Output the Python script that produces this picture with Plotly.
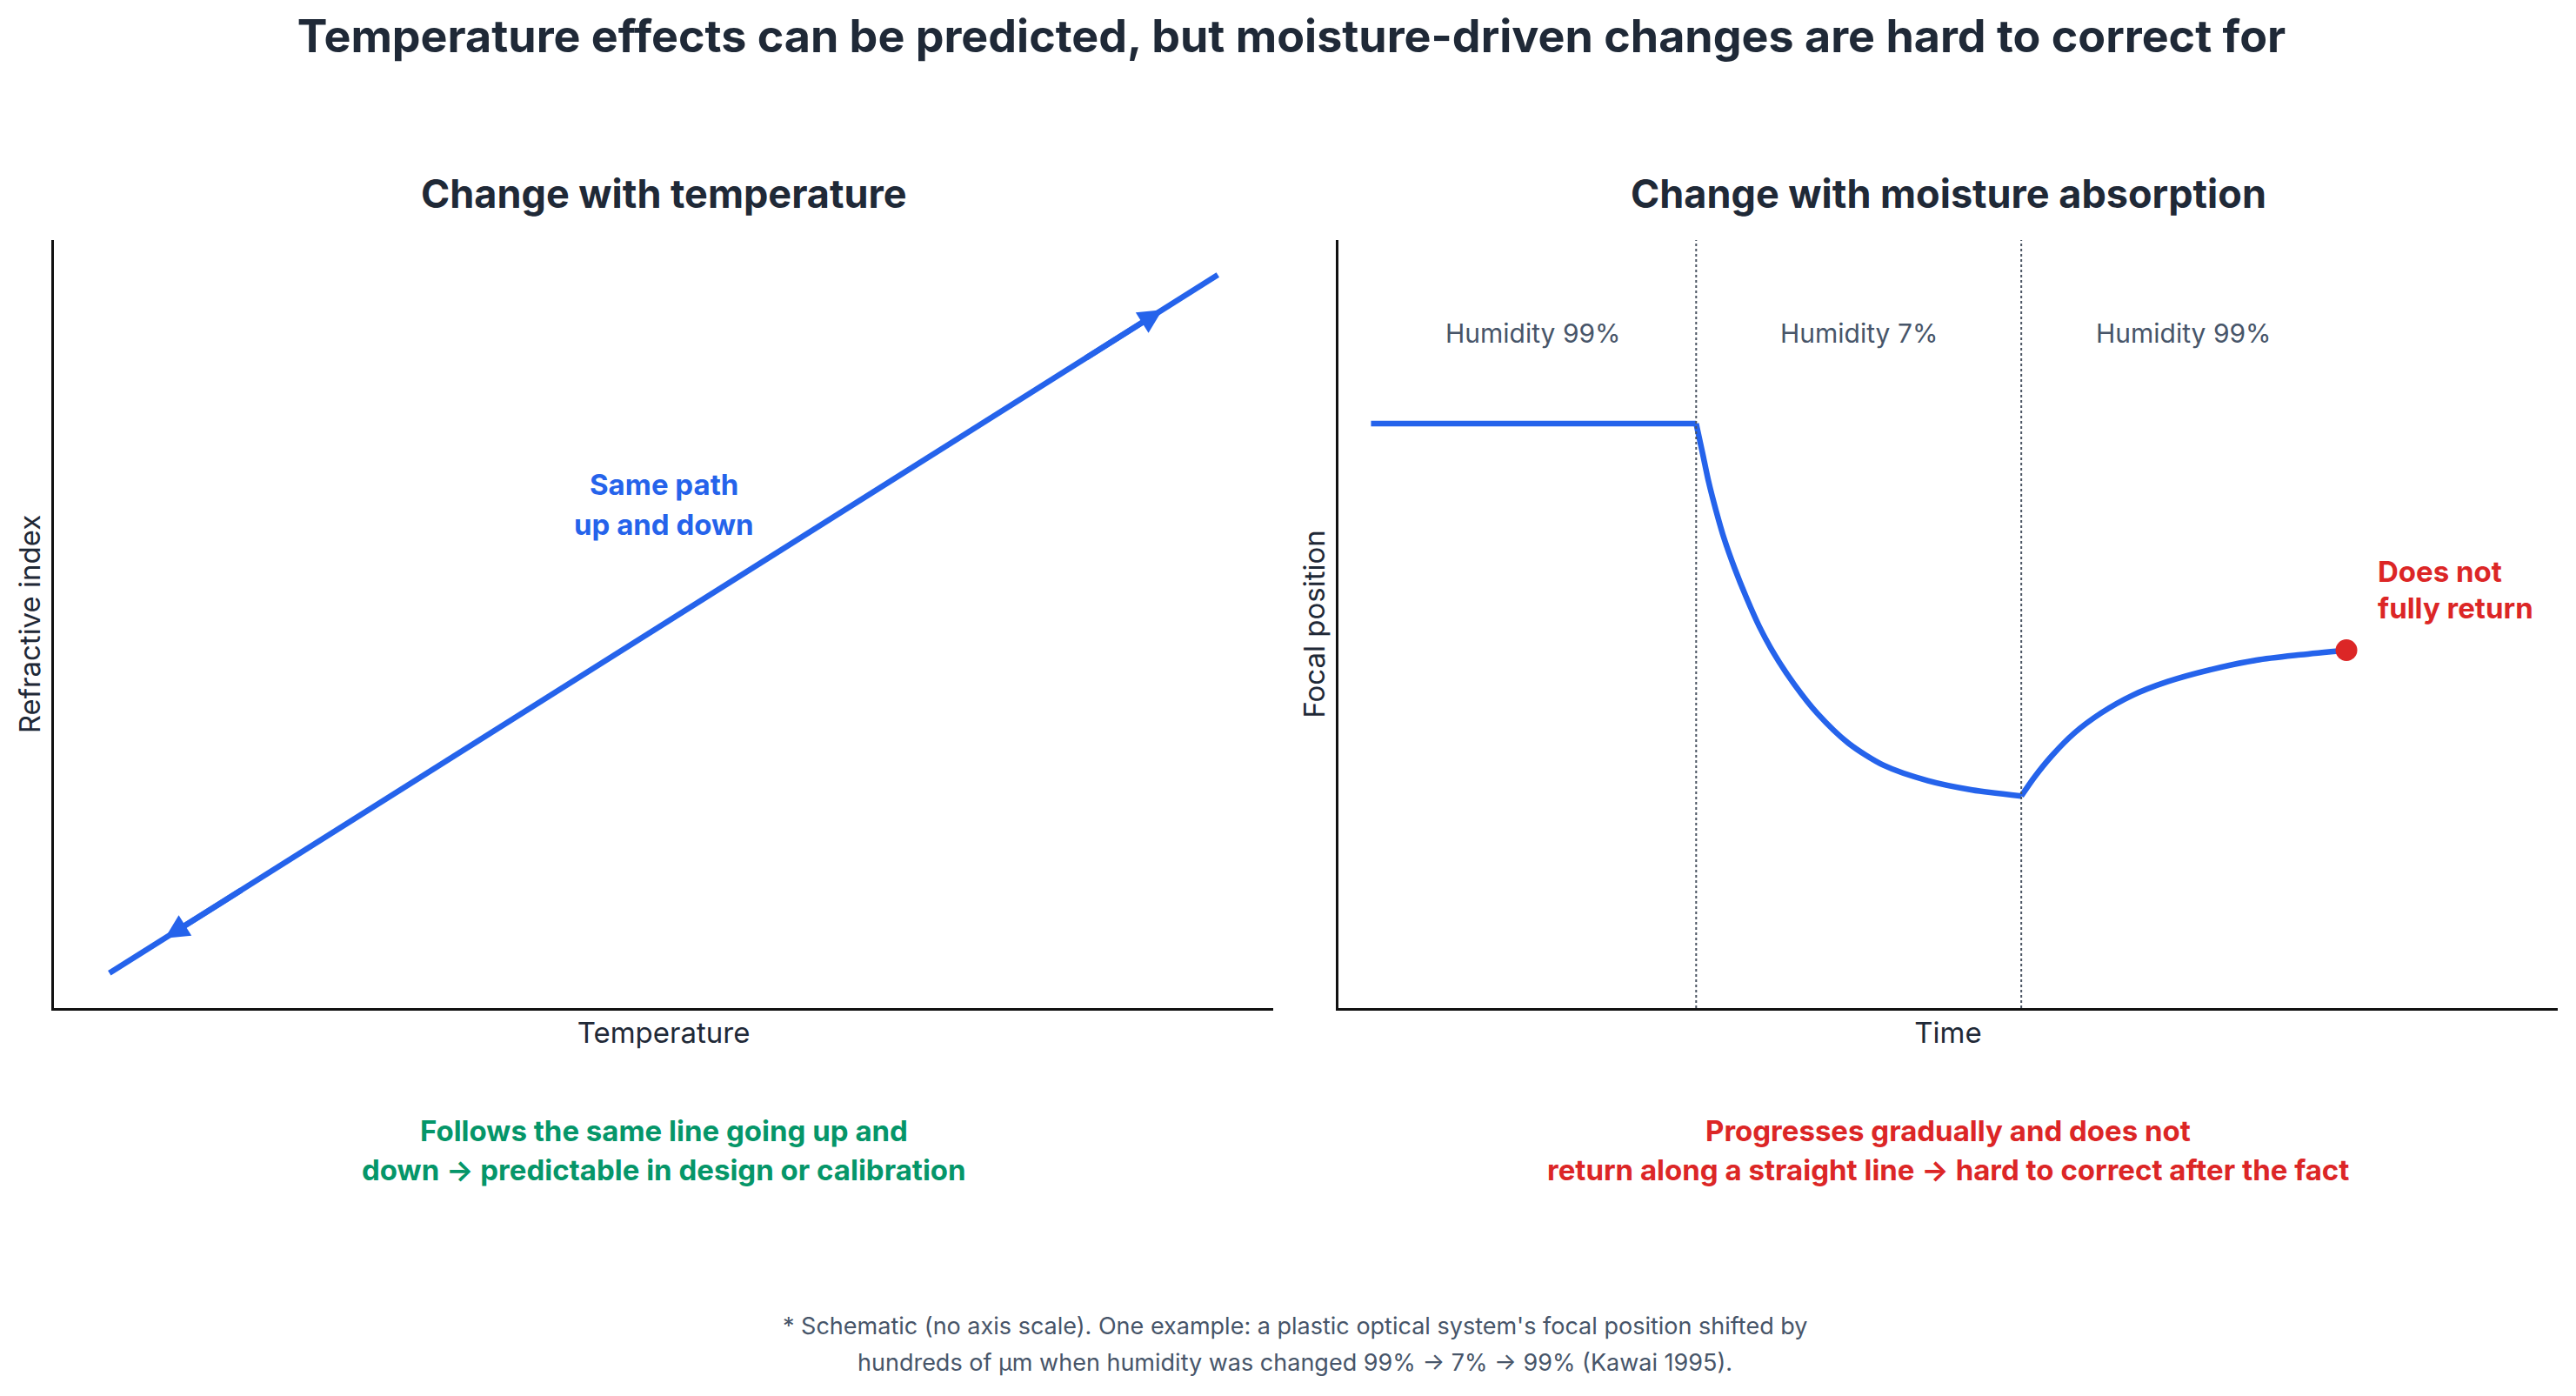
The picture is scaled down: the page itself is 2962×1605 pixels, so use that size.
import plotly.graph_objects as go
from plotly.subplots import make_subplots

# --- data (schematic, no scale) ---
temp_x = [0, 10]
temp_y = [0, 10]
arrow_tips = [(0.5, 0.5), (9.5, 9.5)]
arrow_tails = [(1.2, 1.2), (8.8, 8.8)]

# humidity 99% -> 7% -> 99%
wet1_t = [0.0, 1.0]
wet1_y = [0.761, 0.761]
dry_t = [1.0, 1.020, 1.038, 1.061, 1.087, 1.118, 1.154, 1.194, 1.243, 1.301,
         1.372, 1.468, 1.577, 1.713, 1.849, 2.0]
dry_y = [0.761, 0.722, 0.686, 0.648, 0.610, 0.573, 0.535, 0.497, 0.459, 0.422,
         0.384, 0.345, 0.316, 0.296, 0.284, 0.276]
wet2_t = [2.0, 2.041, 2.095, 2.163, 2.245, 2.341, 2.450, 2.586, 2.723, 2.859, 3.0]
wet2_y = [0.276, 0.301, 0.329, 0.358, 0.384, 0.407, 0.425, 0.441, 0.453, 0.460, 0.466]

boundaries = [1, 2]
phase_x = [0.5, 1.5, 2.5]
phase_labels = ["Humidity 99%", "Humidity 7%", "Humidity 99%"]

BLUE = "#2563eb"
RED = "#dc2626"
GREEN = "#059669"
DARK = "#1f2937"
GRAY = "#475569"
FONT = "Inter, Noto Sans CJK JP, sans-serif"
LW = 6.5

# page body keeps an 8px margin, so the figure is 8px smaller each way
W, H = 2954, 1597
LEFT_DOM = [0.0183, 0.4929]
RIGHT_DOM = [0.5183, 0.9929]
Y_DOM = [0.2793, 0.8322]
LEFT_C = sum(LEFT_DOM) / 2
RIGHT_C = sum(RIGHT_DOM) / 2

fig = make_subplots(rows=1, cols=2)

fig.add_trace(go.Scatter(x=temp_x, y=temp_y, mode="lines",
                         line=dict(color=BLUE, width=LW), hoverinfo="skip"),
              row=1, col=1)

for t, y in [(wet1_t, wet1_y), (dry_t, dry_y), (wet2_t, wet2_y)]:
    fig.add_trace(go.Scatter(x=t, y=y, mode="lines",
                             line=dict(color=BLUE, width=LW, shape="spline", smoothing=0.8),
                             hoverinfo="skip"),
                  row=1, col=2)

fig.add_trace(go.Scatter(x=[wet2_t[-1]], y=[wet2_y[-1]], mode="markers",
                         marker=dict(color=RED, size=25), hoverinfo="skip"),
              row=1, col=2)

# direction arrows on the temperature line
for (hx, hy), (tx, ty) in zip(arrow_tips, arrow_tails):
    fig.add_annotation(x=hx, y=hy, ax=tx, ay=ty, xref="x", yref="y",
                       axref="x", ayref="y", text="", showarrow=True,
                       arrowhead=2, arrowsize=0.85, arrowwidth=LW, arrowcolor=BLUE)

for b in boundaries:
    fig.add_shape(type="line", x0=b, x1=b, y0=0, y1=1, xref="x2", yref="y2 domain",
                  line=dict(color="#4b5563", width=2, dash="dot"))

for px, lab in zip(phase_x, phase_labels):
    fig.add_annotation(x=px, y=0.879, xref="x2", yref="y2", text=lab, showarrow=False,
                       xanchor="center", yanchor="middle",
                       font=dict(size=30, color=GRAY, family=FONT))


def text_lines(lines, x, y0, dy, xref, yref, color, size, bold=True, xanchor="center"):
    for i, line in enumerate(lines):
        txt = f"<b>{line}</b>" if bold else line
        fig.add_annotation(x=x, y=y0 - i * dy, xref=xref, yref=yref, text=txt,
                           showarrow=False, xanchor=xanchor, yanchor="middle",
                           font=dict(size=size, color=color, family=FONT))


text_lines(["Same path", "up and down"], 5.0, 7.0, 0.57, "x", "y", BLUE, 33)
text_lines(["Does not", "fully return"], 3.09, 0.569, 0.048, "x2", "y2", RED, 33,
           xanchor="left")

# subplot titles
text_lines(["Change with temperature"], LEFT_C, 0.8654, 0, "paper", "paper", DARK, 45)
text_lines(["Change with moisture absorption"], RIGHT_C, 0.8654, 0, "paper", "paper", DARK, 45)

# takeaways below each panel
text_lines(["Follows the same line going up and",
            "down → predictable in design or calibration"],
           LEFT_C, 0.1910, 0.0282, "paper", "paper", GREEN, 33)
text_lines(["Progresses gradually and does not",
            "return along a straight line → hard to correct after the fact"],
           RIGHT_C, 0.1910, 0.0282, "paper", "paper", RED, 33)

# footnote
text_lines(["* Schematic (no axis scale). One example: a plastic optical system's focal position shifted by",
            "hundreds of μm when humidity was changed 99% → 7% → 99% (Kawai 1995)."],
           0.5014, 0.0507, 0.0263, "paper", "paper", GRAY, 27, bold=False)

axis_common = dict(showgrid=False, zeroline=False, showticklabels=False, ticks="",
                   showline=True, linecolor="#111111", linewidth=2.5, automargin=False,
                   title_font=dict(size=33, color=DARK, family=FONT))

fig.update_xaxes(axis_common)
fig.update_yaxes(axis_common)

fig.update_layout(
    xaxis=dict(domain=LEFT_DOM, range=[-0.5, 10.5],
               title=dict(text="Temperature", standoff=16)),
    yaxis=dict(domain=Y_DOM, range=[-0.5, 10.5],
               title=dict(text="Refractive index", standoff=3)),
    xaxis2=dict(domain=RIGHT_DOM, range=[-0.1, 3.65],
                title=dict(text="Time", standoff=16)),
    yaxis2=dict(domain=Y_DOM, range=[0, 1],
                title=dict(text="Focal position", standoff=3)),
    title=dict(text="<b>Temperature effects can be predicted, but moisture-driven changes are hard to correct for</b>",
               x=0.5, xanchor="center", y=0.9787, yanchor="middle",
               font=dict(size=52, color=DARK, family=FONT)),
    showlegend=False,
    width=W, height=H,
    margin=dict(l=0, r=0, t=0, b=0),
    paper_bgcolor="white", plot_bgcolor="white",
    font=dict(family=FONT, color=DARK),
)

fig.write_html("out.html")
